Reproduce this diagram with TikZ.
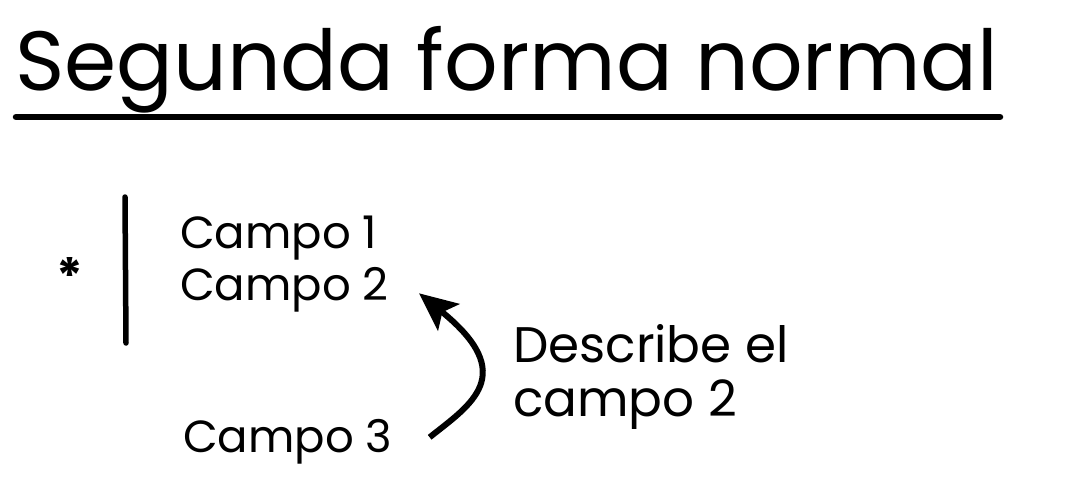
\documentclass[tikz,border=0pt]{standalone}
\usepackage{fontspec}
\setmainfont{Poppins}
\usetikzlibrary{arrows.meta}
\begin{document}
\begin{tikzpicture}[x=1pt,y=-1pt,
  hand/.style={inner sep=0pt, anchor=base west, font=\fontsize{45}{50}\selectfont},
  big/.style={hand, font=\fontsize{50}{56}\selectfont},
  stroke/.style={line width=5.5pt, line cap=round, black},
  pointer/.style={line width=6pt, -{Stealth[length=38pt,width=34pt,inset=8pt]}}]
\useasboundingbox (0,0) rectangle (1069,501);
\node[inner sep=0pt, anchor=base west, font=\fontsize{84}{96}\selectfont] (title) at (15,90) {Segunda forma normal};
\draw[line width=6.5pt, line cap=round] (16,117) coordinate (ul1) -- (1000,117) coordinate (ul2);
\node[inner sep=0pt, font=\bfseries\fontsize{50}{50}\selectfont] (star) at (70,276) {*};
\draw[stroke] (125,197) coordinate (b1) -- (126,343) coordinate (b2);
\node[hand] (c1) at (180,248) {Campo 1};
\node[hand] (c2) at (180,300) {Campo 2};
\node[hand] (c3) at (183,452) {Campo 3};
\node[big] (d1) at (513,362) {Describe el};
\node[big] (d2) at (513,416) {campo 2};
\draw[pointer] ([xshift=37pt,yshift=4pt]c3.east) .. controls (470,405) and (520,375) .. ([xshift=30pt,yshift=-4pt]c2.east);
\end{tikzpicture}
\end{document}
